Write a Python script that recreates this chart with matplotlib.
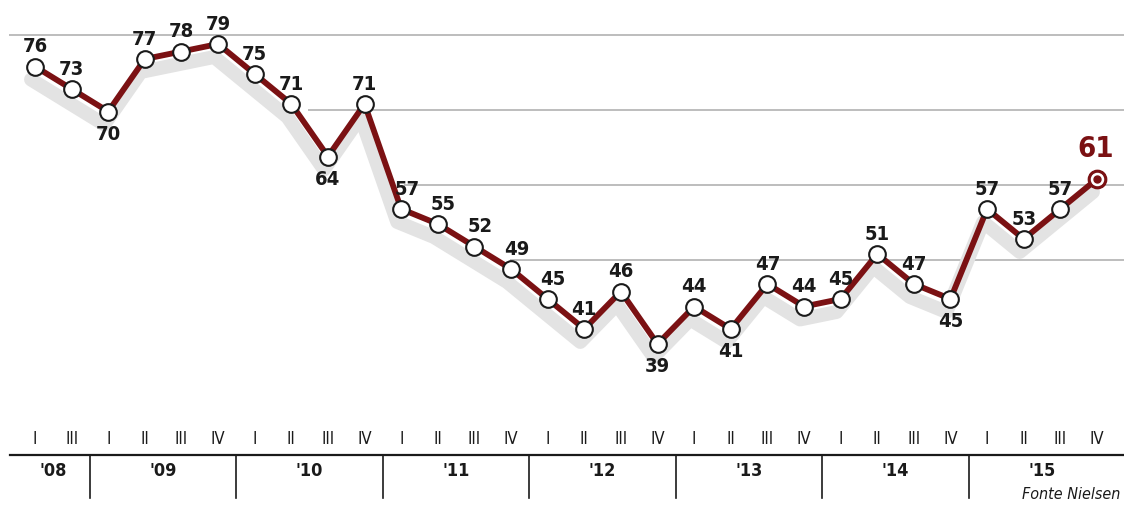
import matplotlib
matplotlib.use("Agg")
import matplotlib.pyplot as plt
import matplotlib.transforms as mtransforms
from matplotlib import font_manager
import numpy as np

# ---- data ----
years = ["'08", "'09", "'10", "'11", "'12", "'13", "'14", "'15"]
quarters_per_year = [["I", "III"]] + [["I", "II", "III", "IV"]] * 7
values = [76, 73, 70, 77, 78, 79, 75, 71, 64, 71, 57, 55, 52, 49, 45, 41,
          46, 39, 44, 41, 47, 44, 45, 51, 47, 45, 57, 53, 57, 61]
below = [2, 8, 17, 19, 25]  # indices whose labels sit under the point
gridlines = [80, 70, 60, 50]
source = "Fonte Nielsen"

FONT = "DejaVu Sans"
STRETCH = "condensed"

W, H = 1124, 506
fig = plt.figure(figsize=(W / 100, H / 100), dpi=100)
ax = fig.add_axes([0, 0, 1, 1])
ax.set_axis_off()

px_per_x = 36.62
px_per_y = 7.5
x0_px, y79_px = 35, 45
ax.set_xlim(-x0_px / px_per_x, (W - x0_px) / px_per_x)
ax.set_ylim(79 - (H - y79_px) / px_per_y, 79 + y79_px / px_per_y)

x = np.arange(len(values))
y = np.array(values, dtype=float)

red = "#7b1113"
dark = "#1a1a1a"

# gridlines start where the falling line crosses them
for g in gridlines:
    idx = np.where((y[:-1] >= g) & (y[1:] < g))[0]
    if g == 80:
        xs = -0.7
    else:
        i = idx[0]
        xs = i + (y[i] - g) / (y[i] - y[i + 1]) + 0.3
    ax.plot([xs, 30.0], [g + 0.25, g + 0.25], color="#bdbdbd", lw=1.4, zorder=1,
            solid_capstyle="butt")

# shadow
shadow_tr = ax.transData + mtransforms.ScaledTranslation(-4 / 100, -13 / 100, fig.dpi_scale_trans)
ax.plot(x, y, color="#e3e3e3", lw=10, transform=shadow_tr, zorder=2,
        solid_joinstyle="round", solid_capstyle="round")

# main line
ax.plot(x, y, color=red, lw=4.2, zorder=3, solid_joinstyle="round")
ax.plot(x, y, linestyle="none", marker="o", ms=12, mfc="white", mec=dark,
        mew=1.5, zorder=4)
ax.plot(x[-1:], y[-1:], linestyle="none", marker="o", ms=5, mfc=red, mec=red, zorder=5)
ax.plot(x[-1:], y[-1:], linestyle="none", marker="o", ms=12, mfc="none", mec=red,
        mew=2.2, zorder=5)

# value labels
for i, v in enumerate(values):
    if i == len(values) - 1:
        ax.annotate(str(v), (i, v), xytext=(-1, 12), textcoords="offset points",
                    ha="center", va="bottom", fontsize=21, fontweight="bold",
                    color=red, family=FONT, fontstretch=STRETCH, zorder=6)
        continue
    if i in below:
        off, va = (0, -9), "top"
    else:
        off, va = (4 if 10 <= i <= 14 else 0, 8), "bottom"
    ax.annotate(str(v), (i, v), xytext=off, textcoords="offset points",
                ha="center", va=va, fontsize=14.5, fontweight="bold",
                color=dark, family=FONT, fontstretch=STRETCH, zorder=6)

# bottom axis
tr = mtransforms.blended_transform_factory(ax.transData, ax.transAxes)
def fy(py):
    return 1 - py / H

ax.plot([10 / W, 1.0], [fy(456), fy(456)], color=dark, lw=1.6,
        transform=ax.transAxes, clip_on=False)
pos = 0
for yi, (yr, qs) in enumerate(zip(years, quarters_per_year)):
    start = pos
    for q in qs:
        ax.text(pos, fy(439), q, transform=tr, ha="center", va="center",
                fontsize=12, family=FONT, fontstretch=STRETCH, color=dark)
        pos += 1
    center = (start + pos - 1) / 2
    ax.text(center, fy(471), yr, transform=tr, ha="center", va="center",
            fontsize=13, fontweight="bold", family=FONT, fontstretch=STRETCH,
            color=dark)
    if yi < len(years) - 1:
        ax.plot([pos - 0.5, pos - 0.5], [fy(456), fy(499)], transform=tr,
                color=dark, lw=1.2, clip_on=False)

ax.text(1120 / W, fy(495), source, transform=ax.transAxes, ha="right",
        va="center", fontsize=11.5, style="italic", family=FONT,
        fontstretch=STRETCH, color=dark)

fig.savefig("out.png", dpi=100)
